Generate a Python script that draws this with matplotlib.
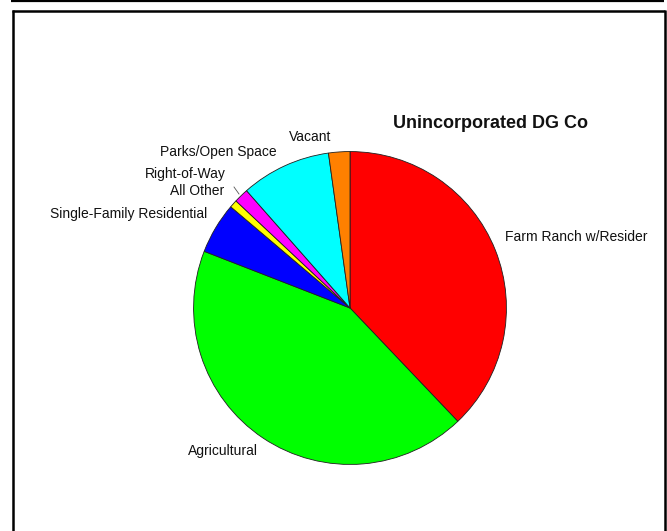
import matplotlib
matplotlib.use("Agg")
import matplotlib.pyplot as plt
from matplotlib.lines import Line2D

plt.rcParams['font.family'] = ['Liberation Sans', 'DejaVu Sans']

categories = ["Farm Ranch w/Resider", "Agricultural", "Single-Family Residential",
              "All Other", "Right-of-Way", "Parks/Open Space", "Vacant"]
values = [37.9, 43.0, 5.3, 0.8, 1.5, 9.3, 2.2]
colors = ["#FF0000", "#00FF00", "#0000FF", "#FFFF00", "#FF00FF", "#00FFFF", "#FF8000"]
title = "Unincorporated DG Co"

W, H = 667, 531
fig = plt.figure(figsize=(W / 100, H / 100), dpi=100)

def px(x, y):
    return x / W, 1 - y / H

# pie axes: center (350, 308), radius 158 px
cx, cy, r = 350, 308, 158
ax = fig.add_axes([(cx - r) / W, (H - cy - r) / H, 2 * r / W, 2 * r / H])
ax.pie(values, colors=colors, startangle=90, counterclock=False, radius=1,
       wedgeprops=dict(edgecolor="#202020", linewidth=0.6))
ax.set_xlim(-1.01, 1.01)
ax.set_ylim(-1.01, 1.01)
ax.set_aspect('equal')
ax.axis('off')

# labels (pixel positions: anchor x, center y, alignment)
label_pos = {
    "Farm Ranch w/Resider": (505, 237, 'left'),
    "Agricultural": (188, 451, 'left'),
    "Single-Family Residential": (207, 214, 'right'),
    "All Other": (224, 191, 'right'),
    "Right-of-Way": (226, 174, 'right'),
    "Parks/Open Space": (277, 152, 'right'),
    "Vacant": (331, 137, 'right'),
}
for name in categories:
    x, y, ha = label_pos[name]
    fx, fy = px(x, y)
    fig.text(fx, fy, name, ha=ha, va='center', fontsize=10, color="#111111")

# leader tick for All Other
x0, y0 = px(234, 187)
x1, y1 = px(239, 194)
fig.add_artist(Line2D([x0, x1], [y0, y1], transform=fig.transFigure,
                      color="#555555", linewidth=0.6))

tx, ty = px(393, 123)
fig.text(tx, ty, title, ha='left', va='center', fontsize=13, fontweight='bold', color="#111111")

# frame lines
def fline(xs, ys, lw):
    fxs = [x / W for x in xs]
    fys = [1 - y / H for y in ys]
    fig.add_artist(Line2D(fxs, fys, transform=fig.transFigure, color='black',
                          linewidth=lw, solid_capstyle='butt'))

fline([11, 664], [1, 1], 1.6)
fline([12, 665], [11, 11], 1.8)
fline([13, 13], [10, 531], 1.8)
fline([664.5, 664.5], [10, 531], 1.8)

fig.savefig("out.png", dpi=100, facecolor='white')
